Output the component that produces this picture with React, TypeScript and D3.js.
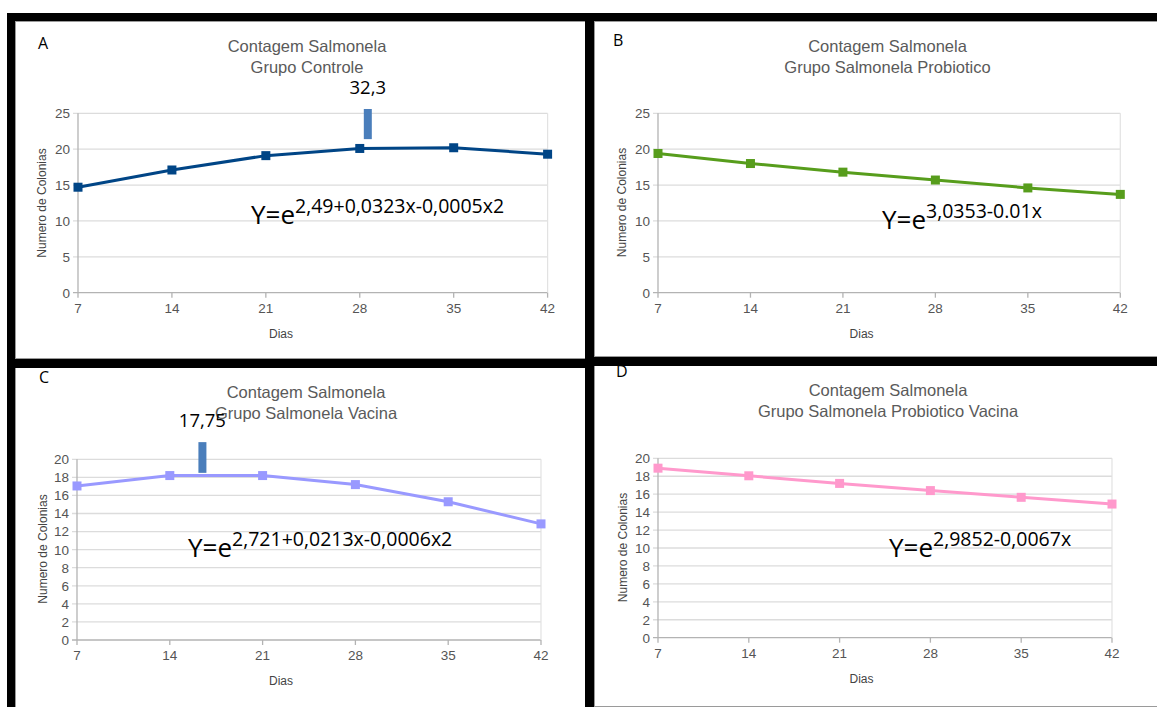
import React from 'react';
import * as d3 from 'd3';

// dias de coleta
const dias = [7, 14, 21, 28, 35, 42];

// contagens
const controle = [14.7, 17.1, 19.1, 20.1, 20.2, 19.3];
const probiotico = [19.4, 18.0, 16.8, 15.7, 14.6, 13.7];
const vacina = [17.05, 18.2, 18.2, 17.2, 15.3, 12.85];
const probioticoVacina = [18.9, 18.05, 17.2, 16.4, 15.65, 14.9];

const ticksAB = [0, 5, 10, 15, 20, 25];
const ticksCD = [0, 2, 4, 6, 8, 10, 12, 14, 16, 18, 20];

const titulo = 'Contagem Salmonela';
const grupos = ['Grupo Controle', 'Grupo Salmonela Probiotico', 'Grupo Salmonela Vacina', 'Grupo Salmonela Probiotico Vacina'];
const letras = ['A', 'B', 'C', 'D'];
const expoentes = ['2,49+0,0323x-0,0005x2', '3,0353-0.01x', '2,721+0,0213x-0,0006x2', '2,9852-0,0067x'];

// marcadores de pico (dia, faixa vertical)
const picoA = { label: '32,3', x: 28.6, y0: 21.4, y1: 25.6 };
const picoC = { label: '17,75', x: 16.46, y0: 18.5, y1: 21.9 };

const calibri = "'Open Sans', 'Noto Sans', sans-serif";
const arial = "'Liberation Sans', Arial, sans-serif";

type Pico = { label: string; x: number; y0: number; y1: number };

type PanelProps = {
  values: number[];
  yTicks: number[];
  color: string;
  x0: number; x1: number; yTop: number; yBottom: number;
  titleX: number; titleY: number; titleGap: number;
  grupo: string;
  letra: string; letraX: number; letraY: number;
  eqX: number; eqY: number; exp: string;
  diasX: number; diasY: number;
  yLabX: number; yLabY: number;
  pico?: Pico;
};

const Panel = (p: PanelProps) => {
  const x = d3.scaleLinear().domain([dias[0], dias[dias.length - 1]]).range([p.x0, p.x1]);
  const y = d3.scaleLinear().domain([0, p.yTicks[p.yTicks.length - 1]]).range([p.yBottom, p.yTop]);
  const line = d3.line<number>().x((_, i) => x(dias[i])).y(v => y(v));
  const m = 9;
  return (
    <g>
      {p.yTicks.map(t => (
        <g key={t}>
          <line x1={p.x0 - 5} x2={p.x1} y1={y(t)} y2={y(t)} stroke={t === 0 ? '#b3b3b3' : '#dcdcdc'} strokeWidth={1.3} />
          <text x={p.x0 - 8} y={y(t)} dy="0.36em" textAnchor="end" fontFamily={arial} fontSize={13.5} fill="#555">{t}</text>
        </g>
      ))}
      <line x1={p.x0} x2={p.x0} y1={p.yTop} y2={p.yBottom} stroke="#b3b3b3" strokeWidth={1.3} />
      <line x1={p.x1} x2={p.x1} y1={p.yTop} y2={p.yBottom} stroke="#e2e2e2" strokeWidth={1.2} />
      {dias.map(d => (
        <g key={d}>
          <line x1={x(d)} x2={x(d)} y1={p.yBottom} y2={p.yBottom + 5} stroke="#b3b3b3" strokeWidth={1.3} />
          <text x={x(d)} y={p.yBottom + 20} textAnchor="middle" fontFamily={arial} fontSize={13.5} fill="#555">{d}</text>
        </g>
      ))}
      <path d={line(p.values) || ''} fill="none" stroke={p.color} strokeWidth={3} strokeLinejoin="round" />
      {p.values.map((v, i) => (
        <rect key={i} x={x(dias[i]) - m / 2} y={y(v) - m / 2} width={m} height={m} fill={p.color} />
      ))}
      <text x={p.titleX} y={p.titleY} textAnchor="middle" fontFamily={arial} fontSize={16.5} fill="#5a5a5a">{titulo}</text>
      <text x={p.titleX} y={p.titleY + p.titleGap} textAnchor="middle" fontFamily={arial} fontSize={16.5} fill="#5a5a5a">{p.grupo}</text>
      <text x={p.diasX} y={p.diasY} textAnchor="middle" fontFamily={arial} fontSize={12} fill="#444">Dias</text>
      <text transform={`translate(${p.yLabX},${p.yLabY}) rotate(-90)`} textAnchor="middle" fontFamily={arial} fontSize={12} fill="#444">Numero de Colonias</text>
      <text x={p.letraX} y={p.letraY} fontFamily={calibri} fontSize={16} fill="#000">{p.letra}</text>
      <text x={p.eqX} y={p.eqY} fontFamily={calibri} fontSize={26} fill="#000">
        Y=e<tspan dy={-11} fontSize={19.5}>{p.exp}</tspan>
      </text>
      {p.pico && (
        <g>
          <rect x={x(p.pico.x) - 4} y={y(p.pico.y1)} width={8} height={y(p.pico.y0) - y(p.pico.y1)} fill="#4a7ebb" />
          <text x={x(p.pico.x)} y={y(p.pico.y1) - 15} textAnchor="middle" fontFamily={calibri} fontSize={18.5} fill="#000">{p.pico.label}</text>
        </g>
      )}
    </g>
  );
};

export default function App() {
  return (
    <svg width={1157} height={707} style={{ position: 'absolute', left: 0, top: 0, background: '#fff' }}>
      <rect width={1157} height={707} fill="#fff" />
      <Panel values={controle} yTicks={ticksAB} color="#004586"
        x0={78} x1={547.6} yTop={113.3} yBottom={292.7}
        titleX={307} titleY={52} titleGap={21} grupo={grupos[0]}
        letra={letras[0]} letraX={38} letraY={49}
        eqX={251} eqY={224} exp={expoentes[0]}
        diasX={281} diasY={338} yLabX={46} yLabY={203} pico={picoA} />
      <Panel values={probiotico} yTicks={ticksAB} color="#579d1c"
        x0={658} x1={1120.3} yTop={113.3} yBottom={292.7}
        titleX={887.5} titleY={52} titleGap={21} grupo={grupos[1]}
        letra={letras[1]} letraX={613} letraY={46}
        eqX={882} eqY={229} exp={expoentes[1]}
        diasX={861.6} diasY={338} yLabX={626} yLabY={202.5} />
      <Panel values={vacina} yTicks={ticksCD} color="#9999ff"
        x0={77} x1={541} yTop={459.3} yBottom={640}
        titleX={306} titleY={398} titleGap={21} grupo={grupos[2]}
        letra={letras[2]} letraX={39} letraY={383}
        eqX={188} eqY={557} exp={expoentes[2]}
        diasX={281} diasY={685} yLabX={46.5} yLabY={549} pico={picoC} />
      <Panel values={probioticoVacina} yTicks={ticksCD} color="#ff99cc"
        x0={658} x1={1112} yTop={458.3} yBottom={637.7}
        titleX={888} titleY={396} titleGap={21} grupo={grupos[3]}
        letra={letras[3]} letraX={616} letraY={377}
        eqX={889} eqY={557} exp={expoentes[3]}
        diasX={861.5} diasY={683} yLabX={626.5} yLabY={547.5} />
      {/* molduras */}
      <g stroke="#9a9a9a" strokeWidth={1}>
        <line x1={15} x2={1157} y1={21.5} y2={21.5} />
        <line x1={15.5} x2={15.5} y1={21} y2={707} />
        <line x1={594.5} x2={594.5} y1={21} y2={707} />
        <line x1={15} x2={585} y1={358.5} y2={358.5} />
        <line x1={594} x2={1157} y1={356.5} y2={356.5} />
        <line x1={594} x2={1157} y1={706.5} y2={706.5} />
      </g>
      <g fill="#000">
        <rect x={7} y={13} width={1150} height={8} />
        <rect x={7} y={13} width={8} height={694} />
        <rect x={585} y={13} width={9} height={694} />
        <rect x={7} y={359} width={587} height={9} />
        <rect x={585} y={357} width={572} height={9} />
      </g>
    </svg>
  );
}
